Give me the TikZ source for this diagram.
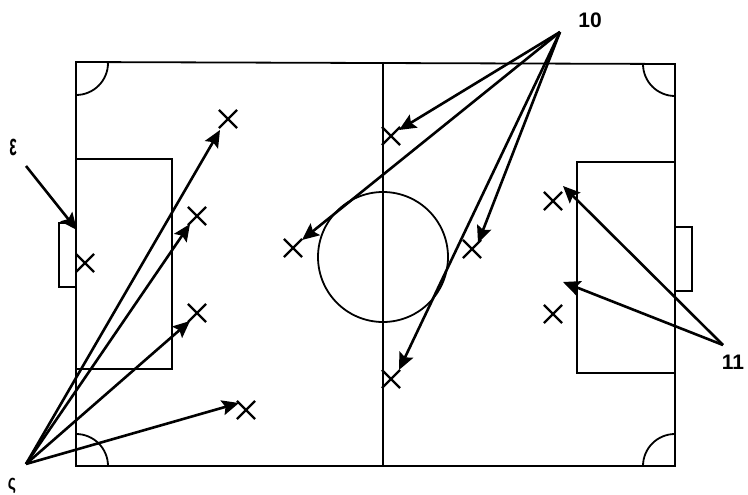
\documentclass[tikz,border=0pt]{standalone}
\usepackage{fontspec}
\setmainfont{Liberation Sans}
\usetikzlibrary{arrows.meta,shapes.misc}
\tikzset{pitch/.style={line width=1.8pt, black},
         xmark/.style={cross out, draw=black, line width=2.2pt, minimum size=16pt, inner sep=0pt},
         arr/.style={-{Stealth[length=17pt,width=15pt,inset=3pt]}, line width=2.6pt, black},
         lab/.style={font=\bfseries\fontsize{21}{24}\selectfont, inner sep=0pt}}

\begin{document}
\begin{tikzpicture}[x=1pt,y=-1pt]
\useasboundingbox (0,0) rectangle (748,495);
% field
\draw[pitch] (76,62) -- (675,64) -- (675,466) -- (76,466) -- cycle;
\draw[pitch] (383,62) -- (383,466);
\draw[pitch] (383,257) circle (65);
% boxes and goals
\draw[pitch] (76,159) -- (172,159) -- (172,369) -- (76,369);
\draw[pitch] (675,162) -- (577,162) -- (577,373) -- (675,373);
\draw[pitch] (76,223) -- (59,223) -- (59,287) -- (76,287);
\draw[pitch] (675,227) -- (692,227) -- (692,291) -- (675,291);
% corners
\draw[pitch] (76,95) arc[start angle=90, end angle=0, radius=32];
\draw[pitch] (76,434) arc[start angle=-90, end angle=0, radius=32];
\draw[pitch] (675,96) arc[start angle=90, end angle=180, radius=32];
\draw[pitch] (675,434) arc[start angle=-90, end angle=-180, radius=32];
% players
\foreach \n/\x/\y in {a/228/119,b/197/216,c/197/313,d/246/410,e/85/263,f/293/248,g/391/136,h/472/249,i/391/379,j/553/201,k/553/314}
  {\node[xmark] (p\n) at (\x,\y) {};}
% labels
\node[lab] (lab8) at (13,147) {\scalebox{0.75}[1.45]{ε}};
\node[lab] (lab9) at (12,486) {\scalebox{0.75}[1]{ς}};
\node[lab] (lab10) at (590,20) {10};
\node[lab] (lab11) at (733,362) {11};
% arrow ends
\coordinate (from8) at (26,166);
\coordinate (from9) at (26,464);
\coordinate (from10) at (560,32);
\coordinate (from11) at (723,345);
\foreach \n/\x/\y in {t8/77/230,ta/220/130,tb/190/224,tc/190/321,td/239/403,tf/302/240,tg/399/130,th/478/243,ti/399/370,tj/563/186,tk/563/282}
  {\coordinate (\n) at (\x,\y);}
% arrows
\draw[arr] (from8) -- (t8);
\foreach \t in {ta,tb,tc,td} {\draw[arr] (from9) -- (\t);}
\foreach \t in {tf,tg,th,ti} {\draw[arr] (from10) -- (\t);}
\foreach \t in {tj,tk} {\draw[arr] (from11) -- (\t);}
\end{tikzpicture}
\end{document}
